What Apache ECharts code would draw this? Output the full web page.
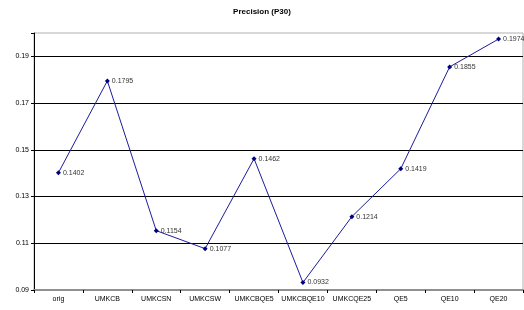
<!DOCTYPE html>
<html>
<head>
<meta charset="utf-8">
<script src="https://cdn.jsdelivr.net/npm/echarts@6/dist/echarts.min.js"></script>
<style>
  html, body { margin: 0; padding: 0; background: #fff; }
  #chart { width: 524px; height: 310px; }
</style>
</head>
<body>
<div id="chart"></div>
<script>
// categories and values
var categories = ["orig", "UMKCB", "UMKCSN", "UMKCSW", "UMKCBQE5", "UMKCBQE10", "UMKCQE25", "QE5", "QE10", "QE20"];
var precision = [0.1402, 0.1795, 0.1154, 0.1077, 0.1462, 0.0932, 0.1214, 0.1419, 0.1855, 0.1974];
var yTicks = [0.09, 0.11, 0.13, 0.15, 0.17, 0.19];

var chart = echarts.init(document.getElementById('chart'));

var option = {
    backgroundColor: '#fff',
    animation: false,
    title: {
        text: 'Precision (P30)',
        left: 'center',
        top: 3,
        textStyle: { fontFamily: 'Liberation Sans', fontSize: 8, fontWeight: 'bold', color: '#000' }
    },
    grid: {
        left: 34, right: 1, top: 33, bottom: 20,
        show: true, borderColor: '#b0b0b0', borderWidth: 1, backgroundColor: '#fff'
    },
    xAxis: {
        type: 'category',
        data: categories,
        boundaryGap: true,
        axisLine: { lineStyle: { color: '#909090', width: 2 } },
        axisTick: { show: true, length: 3, lineStyle: { color: '#000' } },
        axisLabel: { fontFamily: 'Liberation Sans', fontSize: 7, color: '#000', margin: 6, interval: 0 }
    },
    yAxis: {
        type: 'value',
        min: 0.09,
        max: 0.2,
        interval: 0.02,
        axisLine: { show: true, lineStyle: { color: '#000', width: 1 } },
        axisTick: { show: true, length: 3, lineStyle: { color: '#000' } },
        axisLabel: {
            fontFamily: 'Liberation Sans', fontSize: 7, color: '#000', margin: 5,
            formatter: function (v) {
                for (var i = 0; i < yTicks.length; i++) {
                    if (Math.abs(v - yTicks[i]) < 1e-6) return yTicks[i].toFixed(2);
                }
                return '';
            }
        },
        splitLine: { show: true, showMinLine: false, showMaxLine: false, lineStyle: { color: '#000', width: 1 } }
    },
    series: [{
        type: 'line',
        data: precision,
        symbol: 'diamond',
        symbolSize: 5,
        lineStyle: { color: '#1c1c9c', width: 1 },
        itemStyle: { color: '#00007f' },
        label: {
            show: true,
            position: 'right',
            distance: 2,
            fontFamily: 'Liberation Sans',
            fontSize: 7,
            color: '#333',
            formatter: function (p) { return p.value.toFixed(4); }
        }
    }]
};

chart.setOption(option);
</script>
</body>
</html>
